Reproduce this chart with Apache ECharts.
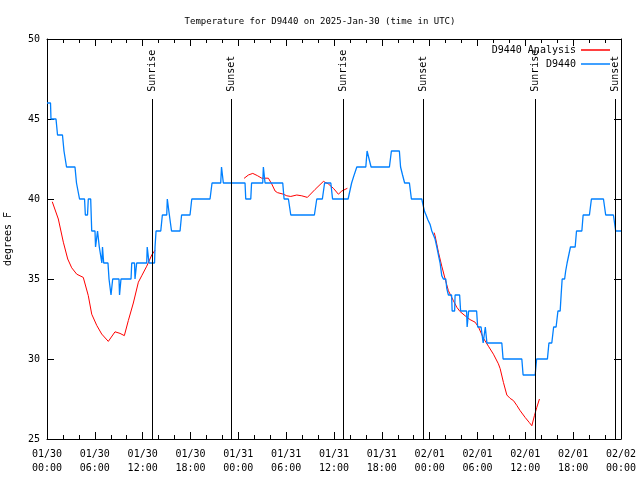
<!DOCTYPE html>
<html><head><meta charset="utf-8">
<script src="https://cdn.jsdelivr.net/npm/echarts@6/dist/echarts.min.js"></script>
<style>html,body{margin:0;padding:0;background:#fff}#c{width:640px;height:480px}</style>
</head><body><div id="c"></div>
<script>
// Hours since 2025-01-30 00:00 UTC
const xTickLabels = ["01/30\n00:00","01/30\n06:00","01/30\n12:00","01/30\n18:00","01/31\n00:00","01/31\n06:00","01/31\n12:00","01/31\n18:00","02/01\n00:00","02/01\n06:00","02/01\n12:00","02/01\n18:00","02/02\n00:00"];

const blueHours = [0.00,0.44,0.50,1.13,1.32,1.94,2.13,2.32,2.45,3.51,3.70,3.89,4.08,4.71,4.81,5.08,5.18,5.48,5.61,6.02,6.09,6.24,6.34,6.44,6.56,6.80,6.88,6.96,7.03,7.11,7.65,7.78,7.97,8.03,8.16,8.24,9.03,9.10,9.22,9.28,10.54,10.63,10.98,11.04,11.17,11.25,12.51,12.57,12.74,12.80,13.49,13.55,13.68,14.27,14.47,15.02,15.09,15.27,15.35,15.43,15.62,16.69,16.88,17.94,18.16,20.45,20.70,21.79,21.89,22.05,22.12,24.84,24.93,25.56,25.66,27.06,27.14,27.29,27.35,29.57,29.74,30.28,30.58,33.54,33.84,34.54,34.82,35.60,35.82,37.77,38.21,38.46,38.86,39.99,40.15,40.40,40.65,42.95,43.20,44.20,44.35,44.60,44.86,45.46,45.71,47.01,47.18,47.37,47.55,47.77,48.06,48.27,48.47,48.68,48.90,49.02,49.18,49.31,49.44,49.52,49.72,50.02,50.15,50.35,50.75,50.82,51.13,51.19,51.76,51.88,52.63,52.70,52.82,52.89,53.89,54.02,54.45,54.71,54.93,54.98,55.11,55.18,57.05,57.21,59.56,59.72,61.23,61.42,62.77,62.96,63.32,63.55,63.86,64.09,64.37,64.49,64.62,64.93,65.06,65.24,65.41,65.66,66.25,66.42,67.09,67.25,68.04,68.29,69.80,70.08,71.05,71.33,72.00];
const blueTemps = [46,46,45,45,44,44,43,43,42,42,41,41,40,40,39,39,40,40,38,38,37,37,38,38,37,37,36,37,37,36,36,35,35,34,34,35,35,34,34,35,35,36,36,35,35,36,36,37,37,36,36,37,38,38,39,39,40,40,39,39,38,38,39,39,40,40,41,41,42,42,41,41,40,40,41,41,42,42,41,41,40,40,39,39,40,40,41,41,40,40,41,41.4,42,42,43,43,42,42,43,43,42,41.5,41,41,40,40,39.6,39.2,39,38.7,38.4,38,38,37.5,37,37,36.3,36,36,35.2,35,35,34.4,34,34,33,33,34,34,33,33,32,32,33,33,32,32,31,31,32,32,31,31,30,30,29,29,30,30,31,31,32,32,33,33,34,35,35,35.5,36,36,37,37,38,38,39,39,40,40,39,39,38,38];

const redHours = [0.66,1.42,2.05,2.60,3.10,3.73,4.55,4.77,5.18,5.61,6.24,6.86,7.69,8.53,9.16,9.70,10.20,10.83,11.46,11.88,12.51,13.14,13.55,18.0,24.72,25.26,25.81,26.39,26.94,27.77,28.19,28.61,28.90,29.65,30.08,30.58,31.33,31.96,32.66,33.63,34.67,35.29,35.92,36.55,36.98,37.68,43.0,48.56,48.68,49.10,49.52,49.94,50.35,50.98,51.41,51.82,52.45,53.07,53.70,54.12,54.33,54.74,55.37,56.00,56.62,56.84,57.25,57.68,58.09,58.51,58.93,59.35,59.97,60.48,60.82,61.14,61.44,61.77];
const redTemps = [39.83,38.75,37.3,36.25,35.7,35.3,35.1,35.0,33.96,32.8,32.1,31.56,31.1,31.7,31.6,31.46,32.4,33.5,34.8,35.2,35.8,36.5,36.8,null,41.29,41.5,41.6,41.46,41.3,41.3,40.94,40.5,40.4,40.3,40.2,40.16,40.25,40.2,40.1,40.6,41.1,40.94,40.67,40.3,40.5,40.67,null,37.9,37.7,36.67,35.8,35.0,34.27,33.64,33.23,32.96,32.7,32.46,32.3,32.0,31.88,31.3,30.8,30.3,29.7,29.4,28.54,27.75,27.54,27.4,27.1,26.77,26.35,26.04,25.83,26.46,26.98,27.5];

const sunNames = ["Sunrise","Sunset","Sunrise","Sunset","Sunrise","Sunset"];
const sunHours = [13.21,23.12,37.18,47.21,61.27,71.30];

const FONT = "'DejaVu Sans Mono', monospace";
const FS = 10;
const blueData = blueHours.map((h,i)=>[h, blueTemps[i]]);
const redData = redHours.map((h,i)=>[h, redTemps[i] === null ? '-' : redTemps[i]]);

const sunLines = [];
sunNames.forEach((n,i)=>{
  const h = sunHours[i];
  sunLines.push([{coord:[h,25], lineStyle:{color:'#000',width:1,type:'solid'}, label:{show:false}}, {coord:[h,46.25]}]);
  sunLines.push([{coord:[h,46.7], lineStyle:{color:'rgba(0,0,0,0)',width:0,type:'solid'},
     label:{show:true, position:'insideStart', formatter:n, color:'#000', fontFamily:FONT, fontSize:FS, distance:0}}, {coord:[h,49.9]}]);
});

const tickStyle = {color:'#000', width:1};
function xAx(pos, showLabel){
  return {type:'value', min:0, max:72, interval:6, position:pos,
    axisLine:{show:true, onZero:false, lineStyle:tickStyle},
    axisTick:{show:true, inside:true, length:7, lineStyle:tickStyle},
    minorTick:{show:true, splitNumber:3, length:4, lineStyle:tickStyle},
    splitLine:{show:false}, minorSplitLine:{show:false},
    axisLabel:{show:showLabel, formatter:(v)=>xTickLabels[Math.round(v/6)], fontFamily:FONT, fontSize:FS, color:'#000', lineHeight:14, margin:8}};
}
function yAx(pos, showLabel){
  return {type:'value', min:25, max:50, interval:5, position:pos,
    name: showLabel ? 'degrees F' : '', nameLocation:'middle', nameGap:34,
    nameTextStyle:{fontFamily:FONT, fontSize:FS, color:'#000'},
    axisLine:{show:true, onZero:false, lineStyle:tickStyle},
    axisTick:{show:true, inside:true, length:7, lineStyle:tickStyle},
    splitLine:{show:false},
    axisLabel:{show:showLabel, fontFamily:FONT, fontSize:FS, color:'#000', margin:7}};
}
const legendBase = {orient:'vertical', align:'right', right:30, itemWidth:29, itemHeight:1.5, icon:'rect',
  padding:0, itemGap:0, selectedMode:false, textStyle:{fontFamily:FONT, fontSize:FS, color:'#000'}};

const chart = echarts.init(document.getElementById('c'));
chart.setOption({
  animation:false,
  backgroundColor:'#fff',
  title:{text:'Temperature for D9440 on 2025-Jan-30 (time in UTC)', left:'center', top:12,
    textStyle:{fontFamily:FONT, fontSize:9, fontWeight:'normal', color:'#000'}},
  legend:[
    Object.assign({}, legendBase, {data:['D9440 Analysis'], top:45}),
    Object.assign({}, legendBase, {data:['D9440'], top:59})
  ],
  grid:{left:47, right:19, top:39, bottom:41, containLabel:false, outerBoundsMode:'none'},
  xAxis:[xAx('bottom', true), xAx('top', false)],
  yAxis:[yAx('left', true), yAx('right', false)],
  series:[
    {name:'D9440 Analysis', type:'line', data:redData, symbol:'none', showSymbol:false, connectNulls:false,
     lineStyle:{color:'#ff0000', width:1}, itemStyle:{color:'#ff0000'}, z:2,
     markLine:{silent:true, symbol:['none','none'], animation:false, data:sunLines}},
    {name:'D9440', type:'line', data:blueData, symbol:'none', showSymbol:false,
     lineStyle:{color:'#0080ff', width:1.3}, itemStyle:{color:'#0080ff'}, z:3}
  ]
});
</script></body></html>
